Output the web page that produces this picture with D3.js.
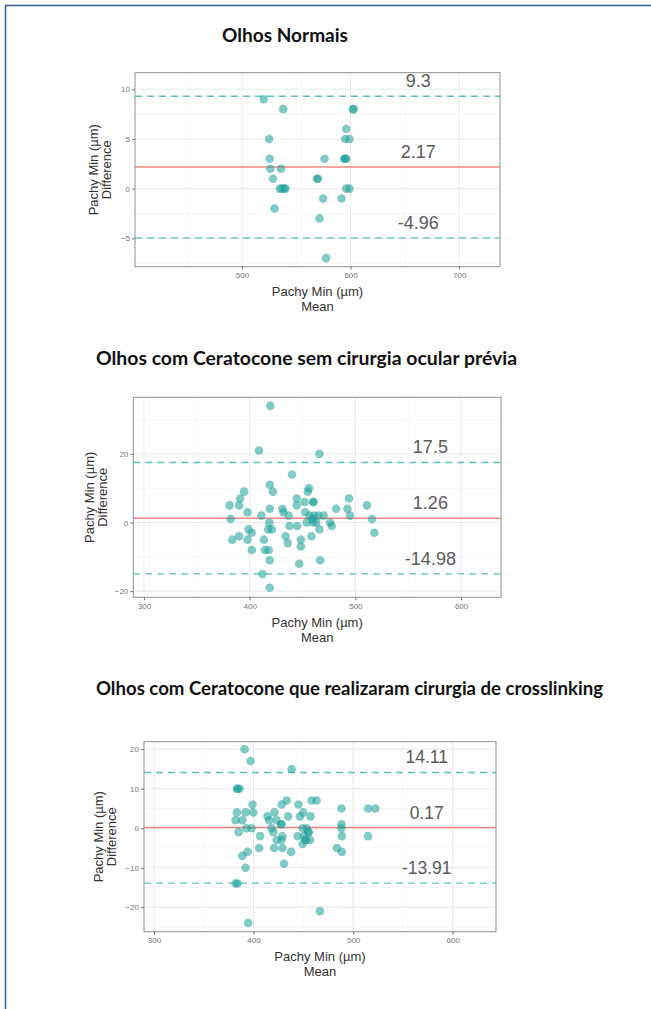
<!DOCTYPE html>
<html><head><meta charset="utf-8">
<script src="https://cdn.jsdelivr.net/npm/d3@7"></script>
<style>html,body{margin:0;padding:0;background:#fff}svg{display:block}</style>
</head><body>
<svg id="chart" width="651" height="1009"></svg>
<script>
// ---------- DATA ----------
const titles = [
  "Olhos Normais",
  "Olhos com Ceratocone sem cirurgia ocular prévia",
  "Olhos com Ceratocone que realizaram cirurgia de crosslinking"
];
const xAxisTitle = ["Pachy Min (µm)", "Mean"];
const yAxisTitle = ["Pachy Min (µm)", "Difference"];

// Panel 1 – Olhos Normais
const p1Mean = [520,538,525,525.5,526,536,528.6,535,537,539,540,530,569,570,576,574.8,571.4,577.5,596,595,599,594,595,596,596,599,591.7,602,603];
const p1Diff = [9,8,5,3,2,2,1,0,0,0,0,-2,1,1,3,-1,-3,-7,6,5,5,3,3,3,0,0,-1,8,8];
const p1Limits = [9.3, 2.17, -4.96];
const p1LimitLabels = ["9.3", "2.17", "-4.96"];
const p1XTicks = [500, 600, 700];
const p1YTicks = [-5, 0, 5, 10];

// Panel 2 – Ceratocone sem cirurgia
const p2Mean = [419.5,408.8,466,440,419,422,394.7,391,390,381,382,398,411,419,431,432,437,444.6,444.6,456,455,452,460,460.5,452.5,456.6,461,464.8,470,454,460,463,459,476,477.7,481.8,494,492.5,495,511,515.7,518,399,401.9,398,390,383.6,402,418.6,417.6,421,413.5,414.5,418,419,412,419,437.7,445,434,436,448.4,448.4,446.9,458.5,466,466.7];
const p2Diff = [34,21,20,14,11,9,9,7,5,5,1,3,2,4,4,3,2,7,5,10,9,6,6,6,3,2,2,2,2,0,0,0,1,0,-1,4,7,4,2,5,1,-3,-2,-3,-5,-4,-5,-8,0,-2,-2,-5,-8,-8,-11,-15,-19,-1,-1,-4,-6,-5,-7,-12,-4,-2,-11];
const p2Limits = [17.5, 1.26, -14.98];
const p2LimitLabels = ["17.5", "1.26", "-14.98"];
const p2XTicks = [300, 400, 500, 600];
const p2YTicks = [-20, 0, 20];

// Panel 3 – Ceratocone com crosslinking
const p3Mean = [391,397,383.3,384,386,438.3,383.3,392,399.7,382,388.7,385,392.7,398,388.7,394,392,382,384,394.7,399,406.7,405.7,414,415.7,421,418,420,423.3,427.7,428,428.3,433.3,434.7,420.7,423.3,428.3,429,429,430.7,437.7,445,446.7,450,444.3,449.3,453.3,449.3,452,452.5,450.7,455,455.5,456.7,457.3,458.3,463.3,483.7,488.3,488.3,488.7,488.7,488.3,466.7,515,522.3,515];
const p3Diff = [20,17,10,10,10,15,4,4,4,2,2,-1,0,0,-7,-6,-10,-14,-14,-24,6,-2,-5,3,2,4,0,-1,2,1,1,6,7,3,-5,-3,-3,-2,-5,-9,-6,6,3,4,-2,0,0,-4,-3,-3,-2,-1,-1,-3,3,7,7,-5,1,0,-2,-6,5,-21,5,5,-2];
const p3Limits = [14.11, 0.17, -13.91];
const p3LimitLabels = ["14.11", "0.17", "-13.91"];
const p3XTicks = [300, 400, 500, 600];
const p3YTicks = [-20, -10, 0, 10, 20];

// ---------- LAYOUT ----------
const panels = [
  {title: titles[0], titleX: 285, titleY: 41.5, titleW: 126, mean: p1Mean, diff: p1Diff, limits: p1Limits, labels: p1LimitLabels,
   xTicks: p1XTicks, yTicks: p1YTicks, xMinor: [450,550,650], yMinor: [-7.5,-2.5,2.5,7.5],
   box: {l:135, t:72.7, r:500, b:266.7}, xDom: [401.5, 737.6], yDom: [-7.86, 11.67], labelX: 662.3, labelSize: 18,
   yTitleX: [93, 106]},
  {title: titles[1], titleX: 306.5, titleY: 364.5, titleW: 421, mean: p2Mean, diff: p2Diff, limits: p2Limits, labels: p2LimitLabels,
   xTicks: p2XTicks, yTicks: p2YTicks, xMinor: [350,450,550], yMinor: [-10,10,30],
   box: {l:133.3, t:397.3, r:501, b:597.3}, xDom: [289.9, 637.8], yDom: [-21.8, 36.5], labelX: 571, labelSize: 18,
   yTitleX: [89, 102]},
  {title: titles[2], titleX: 349.5, titleY: 694.5, titleW: 507, mean: p3Mean, diff: p3Diff, limits: p3Limits, labels: p3LimitLabels,
   xTicks: p3XTicks, yTicks: p3YTicks, xMinor: [350,450,550], yMinor: [-25,-15,-5,5,15],
   box: {l:144, t:741.7, r:496, b:931.7}, xDom: [290, 643.5], yDom: [-26.2, 21.9], labelX: 574, labelSize: 17.5,
   yTitleX: [98, 111]}
];

const svg = d3.select("#chart");
svg.append("rect").attr("width", 651).attr("height", 1009).attr("fill", "#fff");
// outer frame (left & top)
svg.append("path").attr("d", "M5.5,1009V5.5H651").attr("fill", "none").attr("stroke", "#2f5f8f").attr("stroke-width", 1.5);

const axisFont = "'Liberation Sans', Arial, sans-serif";

panels.forEach((p, i) => {
  const b = p.box;
  const x = d3.scaleLinear().domain(p.xDom).range([b.l, b.r]);
  const y = d3.scaleLinear().domain(p.yDom).range([b.b, b.t]);
  const g = svg.append("g");

  // title
  g.append("text").attr("x", p.titleX).attr("y", p.titleY).attr("text-anchor", "middle")
    .attr("font-family", "Lato, 'Open Sans', sans-serif").attr("font-weight", "bold")
    .attr("font-size", 19).attr("fill", "#111")
    .attr("textLength", p.titleW).attr("lengthAdjust", "spacingAndGlyphs").text(p.title);

  // grid
  const grid = g.append("g");
  p.xMinor.forEach(v => grid.append("line").attr("x1", x(v)).attr("x2", x(v)).attr("y1", b.t).attr("y2", b.b).attr("stroke", "#f4f4f4").attr("stroke-width", 0.8));
  p.yMinor.filter(v => v > p.yDom[0] && v < p.yDom[1]).forEach(v => grid.append("line").attr("y1", y(v)).attr("y2", y(v)).attr("x1", b.l).attr("x2", b.r).attr("stroke", "#f4f4f4").attr("stroke-width", 0.8));
  p.xTicks.forEach(v => grid.append("line").attr("x1", x(v)).attr("x2", x(v)).attr("y1", b.t).attr("y2", b.b).attr("stroke", "#e8e8e8").attr("stroke-width", 1));
  p.yTicks.forEach(v => grid.append("line").attr("y1", y(v)).attr("y2", y(v)).attr("x1", b.l).attr("x2", b.r).attr("stroke", "#e8e8e8").attr("stroke-width", 1));

  // limit lines
  g.append("line").attr("x1", b.l).attr("x2", b.r).attr("y1", y(p.limits[1])).attr("y2", y(p.limits[1]))
    .attr("stroke", "#f08a80").attr("stroke-width", 1.4);
  [p.limits[0], p.limits[2]].forEach(v => g.append("line").attr("x1", b.l).attr("x2", b.r).attr("y1", y(v)).attr("y2", y(v))
    .attr("stroke", "#5cc3bc").attr("stroke-width", 1.4).attr("stroke-dasharray", "7,5"));

  // points
  const clipId = "clip" + i;
  svg.append("clipPath").attr("id", clipId).append("rect").attr("x", b.l).attr("y", b.t).attr("width", b.r - b.l).attr("height", b.b - b.t);
  g.append("g").attr("clip-path", `url(#${clipId})`).selectAll("circle")
    .data(p.mean.map((m, k) => [m, p.diff[k]])).join("circle")
    .attr("cx", d => x(d[0])).attr("cy", d => y(d[1])).attr("r", 4.3)
    .attr("fill", "#1c9f98").attr("fill-opacity", 0.55);

  // limit labels
  p.limits.forEach((v, k) => g.append("text").attr("x", x(p.labelX)).attr("y", y(v) - 9)
    .attr("text-anchor", "middle").attr("font-family", axisFont).attr("font-size", p.labelSize)
    .attr("fill", "#5a5a5a").text(p.labels[k]));

  // border
  g.append("rect").attr("x", b.l).attr("y", b.t).attr("width", b.r - b.l).attr("height", b.b - b.t)
    .attr("fill", "none").attr("stroke", "#8f8f8f").attr("stroke-width", 1);

  // axes
  const xa = g.append("g").attr("transform", `translate(0,${b.b})`)
    .call(d3.axisBottom(x).tickValues(p.xTicks).tickSize(3).tickPadding(3));
  const ya = g.append("g").attr("transform", `translate(${b.l},0)`)
    .call(d3.axisLeft(y).tickValues(p.yTicks).tickSize(3).tickPadding(2));
  [xa, ya].forEach(a => {
    a.select(".domain").remove();
    a.selectAll(".tick line").attr("stroke", "#777");
    a.selectAll(".tick text").attr("fill", "#777").attr("font-size", 8).attr("font-family", axisFont);
  });

  // axis titles
  const cx = (b.l + b.r) / 2;
  g.append("text").attr("x", cx).attr("y", b.b + 29.5).attr("text-anchor", "middle")
    .attr("font-family", axisFont).attr("font-size", 13).attr("fill", "#333").text(xAxisTitle[0]);
  g.append("text").attr("x", cx).attr("y", b.b + 44.5).attr("text-anchor", "middle")
    .attr("font-family", axisFont).attr("font-size", 13).attr("fill", "#333").text(xAxisTitle[1]);
  const cy = (b.t + b.b) / 2;
  yAxisTitle.forEach((t, k) => g.append("text")
    .attr("transform", `translate(${p.yTitleX[k] + 4.5},${cy}) rotate(-90)`)
    .attr("text-anchor", "middle").attr("font-family", axisFont).attr("font-size", 13).attr("fill", "#333").text(t));
});
</script>
</body></html>
